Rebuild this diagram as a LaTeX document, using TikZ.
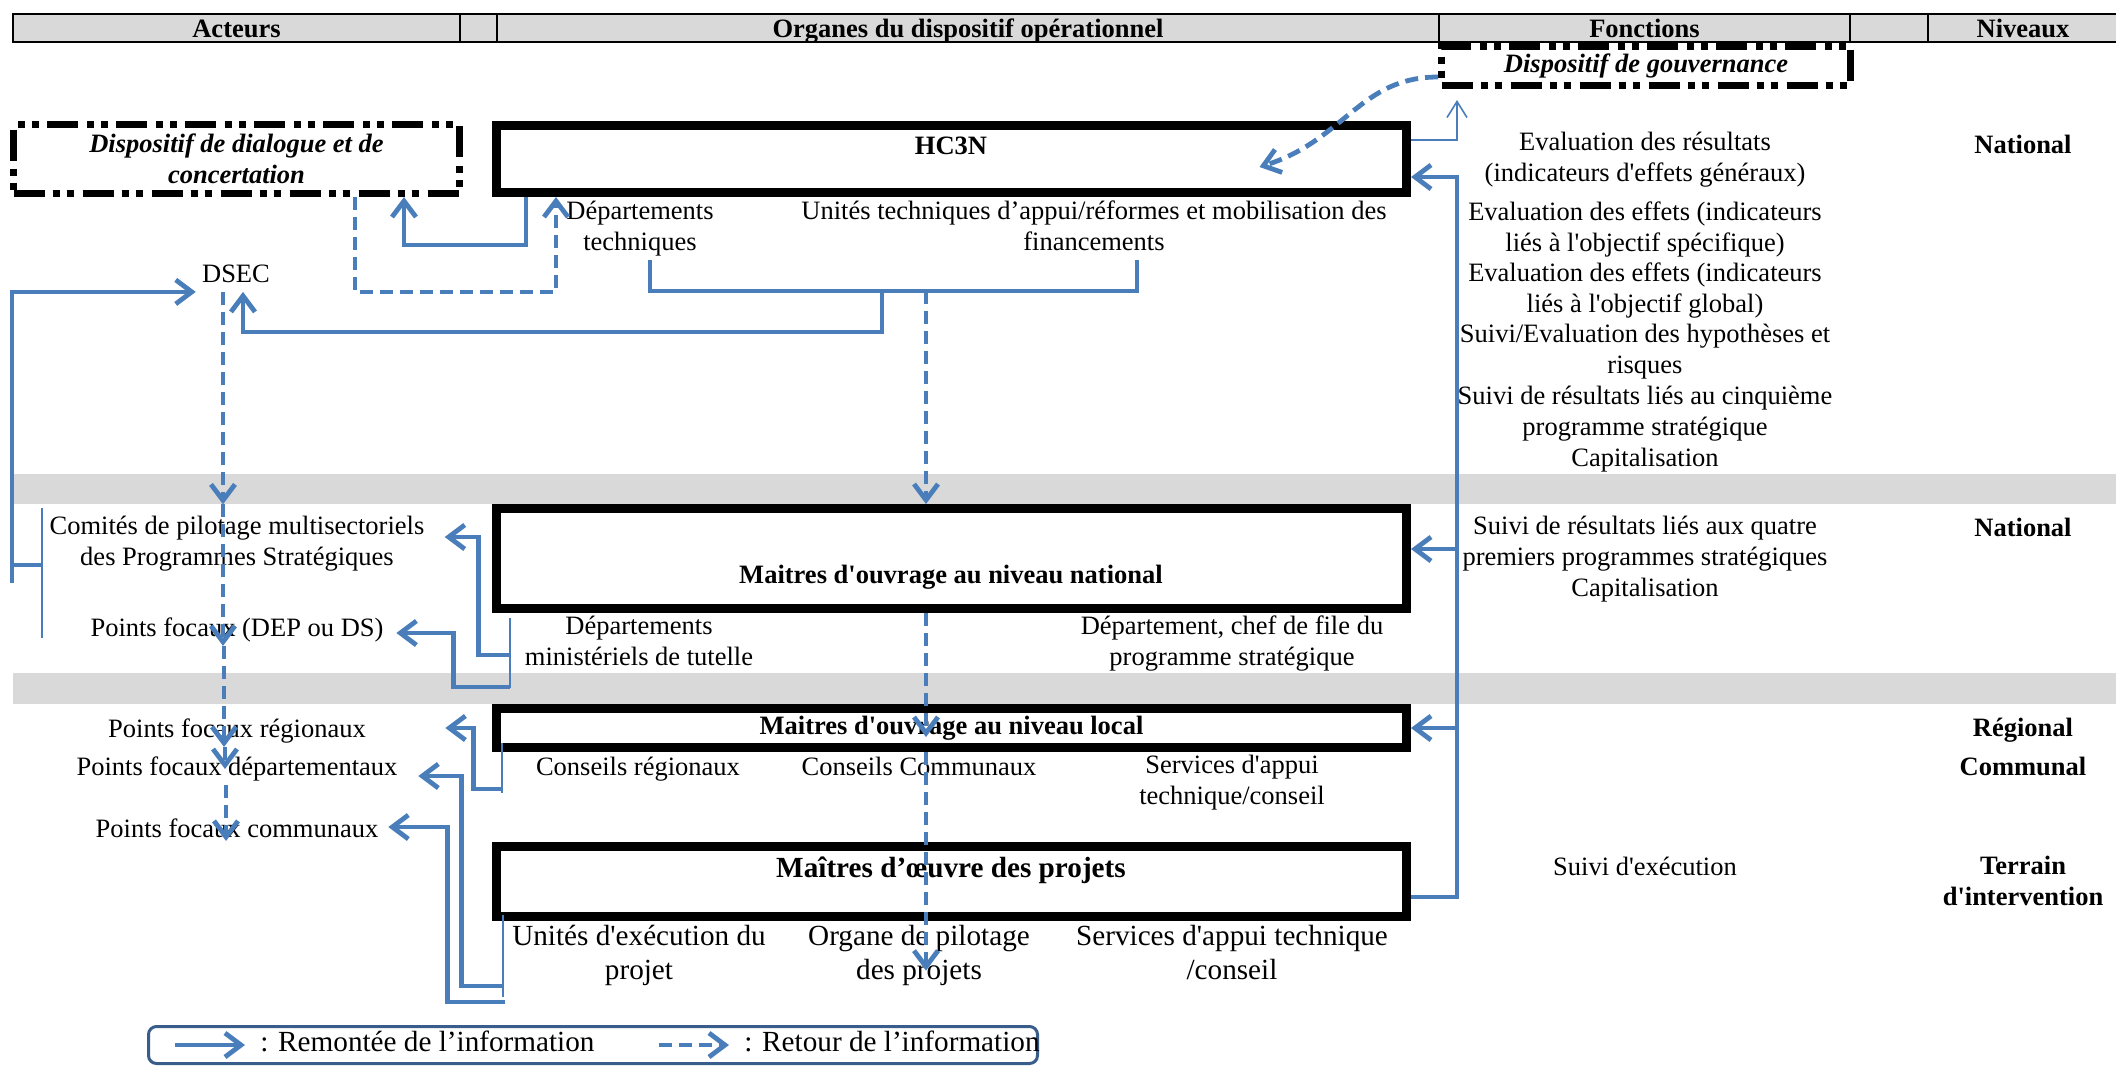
\documentclass[tikz,border=0pt]{standalone}
\usepackage{fontspec}
\setmainfont{Liberation Serif}[Ligatures=TeXOff]
\usepackage{tikz}
\usetikzlibrary{arrows.meta, positioning, calc}
\definecolor{flux}{HTML}{4A7EBB}
\definecolor{cadre}{HTML}{385D8A}
\definecolor{bande}{HTML}{D9D9D9}
\newcommand{\txtn}{\fontsize{13.25pt}{15.5pt}\selectfont}
\newcommand{\txtg}{\fontsize{14.6pt}{17pt}\selectfont}
\tikzstyle{montee} = [draw=flux, line width=2.4pt, -{Straight Barb[length=8pt,width=12pt]}]
\tikzstyle{retour} = [montee, dash pattern=on 6.5pt off 3.5pt]
\tikzstyle{trait} = [draw=flux, line width=0.8pt]
\tikzstyle{traitup} = [trait, -{Straight Barb[length=8pt,width=10pt]}]
\tikzstyle{grosbox} = [draw, line width=4.5pt, inner sep=0pt, minimum width=455pt, font=\txtn\bfseries]
\tikzstyle{tiretbox} = [draw, line width=3.5pt, dash pattern=on 15.5pt off 4pt on 3.5pt off 3.5pt on 3.5pt off 4.5pt, inner sep=0pt, align=center, font=\txtn\bfseries\itshape]
\tikzstyle{txt} = [inner sep=0pt, align=center, font=\txtn, execute at begin node=\strut, execute at end node=\strut]
\tikzstyle{txtg} = [txt, font=\txtg]
\tikzstyle{niv} = [txt, font=\txtn\bfseries]
\tikzstyle{entete} = [draw, line width=1.2pt, fill=bande, inner sep=0pt, minimum height=13.8pt, text height=10.5pt, text depth=1.3pt, font=\txtn\bfseries]

\begin{document}
\begin{tikzpicture}[x=0.5pt, y=-0.5pt]
    \useasboundingbox (0,0) rectangle (2116,1067);
    % bandeaux gris
    \node[fill=bande, inner sep=0pt, minimum width=1053.5pt, minimum height=15pt] (band1) at (1066.5,489) {};
    \node[fill=bande, inner sep=0pt, minimum width=1053.5pt, minimum height=15.5pt] (band2) at (1066.5,688.5) {};

    % en-tete
    \node[entete, minimum width=223.5pt] (hact) at (236.5,28) {Acteurs};
    \node[entete, minimum width=18.5pt] (hvide1) at (478.5,28) {};
    \node[entete, minimum width=471pt] (horg) at (968,28) {Organes du dispositif opérationnel};
    \node[entete, minimum width=205.5pt] (hfon) at (1644.5,28) {Fonctions};
    \node[entete, minimum width=39pt] (hvide2) at (1889,28) {};
    \node[entete, minimum width=95pt] (hniv) at (2023,28) {Niveaux};

    % cadres
    \node[tiretbox, minimum width=223pt, minimum height=34.5pt] (dial) at (236.5,159) {Dispositif de dialogue et de\\concertation};
    \node[tiretbox, minimum width=204.5pt, minimum height=19.5pt] (gouv) at (1646,66) {Dispositif de gouvernance};
    \node[grosbox, minimum height=33.5pt] (hcn) at (951.5,159) {};
    \node[grosbox, minimum height=50pt] (mon) at (951.5,558.5) {};
    \node[grosbox, minimum height=19.5pt] (mol) at (951.5,728) {Maitres d'ouvrage au niveau local};
    \node[grosbox, minimum height=35pt] (moe) at (951.5,881.5) {};
    \node[txt, font=\txtn\bfseries] (hcntxt) at (951,148) {HC3N};
    \node[txt, font=\txtn\bfseries] (montxt) at (951,577) {Maitres d'ouvrage au niveau national};
    \node[txt, font=\txtg\bfseries] (moetxt) at (951,871) {Maîtres d’œuvre des projets};

    % acteurs
    \node[txt] (dsec) at (236,276) {DSEC};
    \node[txt] (cpm) at (237,545.5) {Comités de pilotage multisectoriels\\des Programmes Stratégiques};
    \node[txt] (pfn) at (237,630) {Points focaux (DEP ou DS)};
    \node[txt] (pfr) at (237,731) {Points focaux régionaux};
    \node[txt] (pfd) at (237,769) {Points focaux départementaux};
    \node[txt] (pfc) at (237,831) {Points focaux communaux};

    % organes
    \node[txt] (dtech) at (640,230.5) {Départements\\techniques};
    \node[txt] (utech) at (1094,230.5) {Unités techniques d’appui/réformes et mobilisation des\\financements};
    \node[txt] (dmt) at (639,645.5) {Départements\\ministériels de tutelle};
    \node[txt] (dcf) at (1232,645.5) {Département, chef de file du\\programme stratégique};
    \node[txt] (cr) at (638,769) {Conseils régionaux};
    \node[txt] (cc) at (919,769) {Conseils Communaux};
    \node[txt] (sat) at (1232,784.5) {Services d'appui\\technique/conseil};
    \node[txtg] (ued) at (639,957) {Unités d'exécution du\\projet};
    \node[txtg] (opp) at (919,957) {Organe de pilotage\\des projets};
    \node[txtg] (sat2) at (1232,957) {Services d'appui technique\\/conseil};

    % fonctions
    \node[txt] (f1) at (1645,161.5) {Evaluation des résultats\\(indicateurs d'effets généraux)};
    \node[txt] (f2) at (1645,231) {Evaluation des effets (indicateurs\\liés à l'objectif spécifique)};
    \node[txt] (f3) at (1645,292) {Evaluation des effets (indicateurs\\liés à l'objectif global)};
    \node[txt] (f4) at (1645,353.5) {Suivi/Evaluation des hypothèses et\\risques};
    \node[txt] (f5) at (1645,430.5) {Suivi de résultats liés au cinquième\\programme stratégique\\Capitalisation};
    \node[txt] (f6) at (1645,561) {Suivi de résultats liés aux quatre\\premiers programmes stratégiques\\Capitalisation};
    \node[txt] (f7) at (1645,869) {Suivi d'exécution};

    % niveaux
    \node[niv] (n1) at (2023,147) {National};
    \node[niv] (n2) at (2023,530) {National};
    \node[niv] (n3) at (2023,730) {Régional};
    \node[niv] (n4) at (2023,769) {Communal};
    \node[niv] (n5) at (2023,885) {Terrain\\d'intervention};

    % HC3N et dialogue
    \draw[montee] (hcn.south -| 526,0) |- (404,245) -- (dial.south -| 404,0);
    \draw[retour] (dial.south -| 355,0) |- (556,292) -- (hcn.south -| 556,0);

    % departements techniques / unites
    \coordinate (jt) at (882,291);
    \coordinate (jr) at (926,291);
    \draw[montee, -] (dtech.south -| 650,0) |- (1137,291) -- (utech.south -| 1137,0);
    \draw[montee] (jt) |- (243,332) -- (dsec.south -| 243,0);
    \draw[retour] (jr) -- (mon.north -| jr);
    \draw[retour, shorten >=7.5pt] (mon.south -| jr) -- (mol.south -| jr);
    \draw[retour, shorten >=9.5pt] (mol.south -| jr) -- (opp.south -| jr);

    % retour DSEC vers les points focaux
    \draw[retour] (dsec.south -| 223,0) -- (band1.south -| 223,0);
    \draw[retour] (band1.south -| 223,0) -- (pfn.south -| 223,0);
    \draw[retour] (pfn.south -| 224,0) -- (pfr.south -| 224,0);
    \draw[retour] (pfr.south -| 225,0) -- (pfd.center -| 225,0);
    \draw[retour, shorten >=3pt] (pfd.south -| 226,0) -- (pfc.south -| 226,0);

    % comites -> DSEC
    \coordinate (gA) at (42,565);
    \coordinate (gB) at (12,583);
    \draw[trait] (42,508) -- (42,638);
    \draw[montee, -] (gA) -- (12,565);
    \draw[montee, shorten >=3pt] (gB) |- (dsec.south west);

    % maitres d'ouvrage -> points focaux
    \coordinate (nA) at (510,655);
    \coordinate (nB) at (510,687);
    \coordinate (lA) at (502,789);
    \coordinate (oA) at (503,986);
    \coordinate (oB) at (505,1002);
    \draw[trait] (510,618) -- (510,688);
    \draw[trait] (502,743) -- (502,793);
    \draw[trait] (503,915) -- (503,997);
    \draw[montee, shorten >=10pt] (nA) -| ([xshift=27pt,yshift=4.25pt]cpm.east) -- ([yshift=4.25pt]cpm.east);
    \draw[montee, shorten >=6.25pt] (nB) -| ([xshift=34.75pt,yshift=-1.5pt]pfn.east) -- ([yshift=-1.5pt]pfn.east);
    \draw[montee, shorten >=39.6pt] (lA) -| ([xshift=53.6pt,yshift=1.5pt]pfr.east) -- ([yshift=1.5pt]pfr.east);
    \draw[montee, shorten >=10.25pt] (oA) -| ([xshift=31.75pt,yshift=-3.5pt]pfd.east) -- ([yshift=-3.5pt]pfd.east);
    \draw[montee, shorten >=4.8pt] (oB) -| ([xshift=34.3pt,yshift=2pt]pfc.east) -- ([yshift=2pt]pfc.east);

    % remontee a droite
    \coordinate (rail) at (1457,897);
    \draw[montee] (moe.east |- rail) -- (rail) |- ([yshift=-9pt]hcn.east);
    \draw[montee] (rail |- 0,549) -- (mon.east |- 0,549);
    \draw[montee] (rail |- mol.east) -- (mol.east);
    \draw[traitup] ([yshift=9.5pt]hcn.east) -| (rail |- 0,100);
    \draw[retour] (gouv.west |- 0,77) .. controls (1360,77) and (1345,140) .. ([xshift=154pt,yshift=-4pt]hcn.center);

    % legende
    \node[draw=cadre, line width=1.5pt, rounded corners=4pt, minimum width=444.5pt, minimum height=18.5pt, inner sep=0pt] (leg) at (593,1045) {};
    \draw[montee] ([xshift=14pt]leg.west) -- ([xshift=49pt]leg.west);
    \node[txtg, anchor=west] (legup) at ([xshift=56.5pt]leg.west) {: Remontée de l’information};
    \draw[retour] ([xshift=256pt]leg.west) -- ([xshift=291pt]leg.west);
    \node[txtg, anchor=west] (legret) at ([xshift=298.5pt]leg.west) {: Retour de l’information};
\end{tikzpicture}
\end{document}
